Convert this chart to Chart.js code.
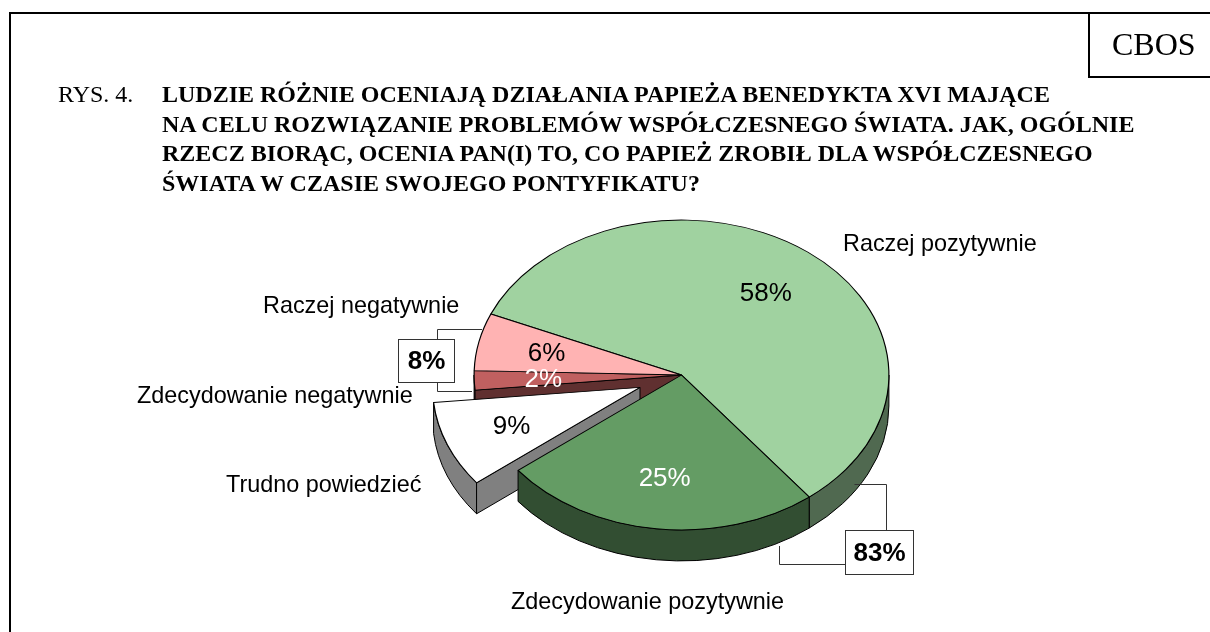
<!DOCTYPE html>
<html lang="pl">
<head>
<meta charset="utf-8">
<title>RYS. 4.</title>
<script src="https://cdn.jsdelivr.net/npm/chart.js@4"></script>
<style>
html, body { margin: 0; padding: 0; background: #fff; }
#page { position: relative; width: 1210px; height: 632px; overflow: hidden; }
canvas { position: absolute; left: 0; top: 0; }
.line { position: absolute; background: #000; }
.head { position: absolute; font-family: "Liberation Serif", serif; font-size: 24px; line-height: 29.5px; color: #000; white-space: nowrap; }
#title { left: 162px; top: 80px; font-weight: bold; }
#rys { left: 58px; top: 80px; }
#cbos { left: 1112px; top: 26px; font-size: 32px; line-height: 36px; }
</style>
</head>
<body>
<div id="page">
  <canvas id="pieChart" width="1210" height="632"></canvas>
  <div class="line" style="left:9px;top:12px;width:2px;height:620px"></div>
  <div class="line" style="left:9px;top:12px;width:1201px;height:2px"></div>
  <div class="line" style="left:1088px;top:12px;width:2px;height:66px"></div>
  <div class="line" style="left:1088px;top:76px;width:122px;height:2px"></div>
  <div class="head" id="cbos">CBOS</div>
  <div class="head" id="rys">RYS. 4.</div>
  <div class="head" id="title"></div>
</div>
<script>
var titleLines = [
    'LUDZIE RÓŻNIE OCENIAJĄ DZIAŁANIA PAPIEŻA BENEDYKTA XVI MAJĄCE',
    'NA CELU ROZWIĄZANIE PROBLEMÓW WSPÓŁCZESNEGO ŚWIATA. JAK, OGÓLNIE',
    'RZECZ BIORĄC, OCENIA PAN(I) TO, CO PAPIEŻ ZROBIŁ DLA WSPÓŁCZESNEGO',
    'ŚWIATA W CZASIE SWOJEGO PONTYFIKATU?'
];
var categories = ['Raczej pozytywnie', 'Zdecydowanie pozytywnie', 'Trudno powiedzieć', 'Zdecydowanie negatywnie', 'Raczej negatywnie'];
var values = [58, 25, 9, 2, 6];
var fillColors = ['#A0D2A0', '#649C64', '#FFFFFF', '#C06060', '#FFB3B3'];
var wallColors = ['#506950', '#324E32', '#808080', '#603030', '#805A5A'];
var valueColors = ['#000', '#fff', '#000', '#fff', '#000'];

document.getElementById('title').innerHTML = titleLines.join('<br>');

// pie is drawn flattened, with a thick edge and one slice pulled out
var TILT = 0.747;
var DEPTH = 31;
var PULL = [0, 0, 44.7, 0, 0];
var TEXT_FONT = '23.4px "Liberation Sans", Arial, sans-serif';
var VALUE_FONT = '26px "Liberation Sans", Arial, sans-serif';
var SUM_FONT = 'bold 26px "Liberation Sans", Arial, sans-serif';

// left end and vertical middle of each category label, same order as categories
var labelSpots = [[843, 245], [511, 603], [226, 486], [137, 397], [263, 307]];

function sliceOrigin(arc, i) {
    var mid = (arc.startAngle + arc.endAngle) / 2;
    return {
        x: arc.x + PULL[i] * Math.cos(mid),
        y: arc.y + PULL[i] * Math.sin(mid) * TILT
    };
}

function drawRim(ctx, arc, i) {
    var o = sliceOrigin(arc, i);
    var r = arc.outerRadius;
    var TAU = Math.PI * 2;
    var a0 = ((arc.startAngle % TAU) + TAU) % TAU;
    var a1 = a0 + (arc.endAngle - arc.startAngle);
    // only the front half of the edge shows
    [0, TAU].forEach(function(base) {
        var from = Math.max(a0, base);
        var to = Math.min(a1, base + Math.PI);
        if (to <= from) return;
        ctx.beginPath();
        ctx.ellipse(o.x, o.y, r, r * TILT, 0, from, to);
        ctx.ellipse(o.x, o.y + DEPTH, r, r * TILT, 0, to, from, true);
        ctx.closePath();
        ctx.fillStyle = wallColors[i];
        ctx.fill();
        ctx.stroke();
    });
}

function drawFace(ctx, arc, i) {
    var o = sliceOrigin(arc, i);
    var ex = o.x + arc.outerRadius * Math.cos(arc.startAngle);
    var ey = o.y + arc.outerRadius * TILT * Math.sin(arc.startAngle);
    ctx.beginPath();
    ctx.moveTo(o.x, o.y);
    ctx.lineTo(ex, ey);
    ctx.lineTo(ex, ey + DEPTH);
    ctx.lineTo(o.x, o.y + DEPTH);
    ctx.closePath();
    ctx.fillStyle = wallColors[i];
    ctx.fill();
    ctx.stroke();
}

function drawTop(ctx, arc, i) {
    var o = sliceOrigin(arc, i);
    ctx.save();
    ctx.translate(o.x, o.y);
    ctx.scale(1, TILT);
    ctx.translate(-arc.x, -arc.y);
    arc.draw(ctx);
    ctx.restore();
}

function drawBracket(ctx, pts) {
    ctx.beginPath();
    pts.forEach(function(p, n) {
        if (n) ctx.lineTo(p[0], p[1]); else ctx.moveTo(p[0], p[1]);
    });
    ctx.stroke();
}

function drawSumBox(ctx, text, x, y, w, h) {
    ctx.fillStyle = '#fff';
    ctx.fillRect(x, y, w, h);
    ctx.strokeRect(x, y, w, h);
    ctx.fillStyle = '#000';
    ctx.font = SUM_FONT;
    ctx.textAlign = 'center';
    ctx.textBaseline = 'middle';
    ctx.fillText(text, x + w / 2, y + h / 2 + 1);
}

var tiltedPie = {
    id: 'tiltedPie',
    beforeDatasetsDraw: function(chart) {
        var ctx = chart.ctx;
        var arcs = chart.getDatasetMeta(0).data;
        ctx.save();
        ctx.strokeStyle = '#000';
        ctx.lineWidth = 1;

        // back to front: the pulled slice and what it uncovers go first
        drawRim(ctx, arcs[3], 3);
        drawFace(ctx, arcs[3], 3);
        drawRim(ctx, arcs[2], 2);
        drawFace(ctx, arcs[2], 2);
        drawTop(ctx, arcs[2], 2);
        drawRim(ctx, arcs[0], 0);
        drawRim(ctx, arcs[1], 1);
        [0, 1, 3, 4].forEach(function(i) { drawTop(ctx, arcs[i], i); });

        // value labels sit at two thirds of the radius
        ctx.font = VALUE_FONT;
        ctx.textAlign = 'center';
        ctx.textBaseline = 'middle';
        arcs.forEach(function(arc, i) {
            var o = sliceOrigin(arc, i);
            var mid = (arc.startAngle + arc.endAngle) / 2;
            ctx.fillStyle = valueColors[i];
            ctx.fillText(values[i] + '%',
                o.x + arc.outerRadius * 2 / 3 * Math.cos(mid),
                o.y + arc.outerRadius * 2 / 3 * TILT * Math.sin(mid) + 1);
        });

        // category labels
        ctx.font = TEXT_FONT;
        ctx.textAlign = 'left';
        ctx.fillStyle = '#000';
        categories.forEach(function(name, i) {
            ctx.fillText(name, labelSpots[i][0], labelSpots[i][1]);
        });

        // brackets joining the positive and the negative answers
        ctx.strokeStyle = '#333';
        drawBracket(ctx, [[854.5, 484.5], [886.5, 484.5], [886.5, 530.5]]);
        drawBracket(ctx, [[845.5, 564.5], [779.5, 564.5], [779.5, 546]]);
        drawBracket(ctx, [[437.5, 339.5], [437.5, 329.5], [482, 329.5]]);
        drawBracket(ctx, [[437.5, 382.5], [437.5, 391.5], [472, 391.5]]);
        drawSumBox(ctx, (values[0] + values[1]) + '%', 845.5, 530.5, 68, 44);
        drawSumBox(ctx, (values[3] + values[4]) + '%', 398.5, 339.5, 56, 43);

        ctx.restore();
        return false;
    }
};

var pieChart = new Chart(document.getElementById('pieChart'), {
    type: 'pie',
    data: {
        labels: categories,
        datasets: [{
            data: values,
            backgroundColor: fillColors,
            borderColor: '#000',
            borderWidth: 1.2
        }]
    },
    options: {
        responsive: false,
        animation: false,
        rotation: -66.8,
        layout: { padding: { left: 153, right: 0, top: 167, bottom: 49 } },
        plugins: { legend: { display: false }, tooltip: { enabled: false } }
    },
    plugins: [tiltedPie]
});
</script>
</body>
</html>
